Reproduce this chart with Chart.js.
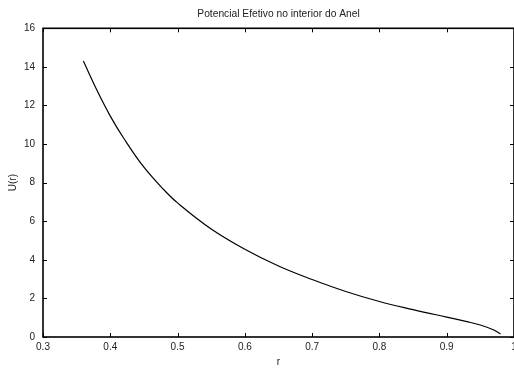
<!DOCTYPE html>
<html>
<head>
<meta charset="utf-8">
<script src="https://cdn.jsdelivr.net/npm/chart.js@4"></script>
<style>
  html, body { margin: 0; padding: 0; background: #fff; }
  #wrap { width: 514px; height: 369px; }
</style>
</head>
<body>
<div id="wrap"><canvas id="chart" width="514" height="369"></canvas></div>
<script>
// values
const rValues = [0.36, 0.38, 0.40, 0.42, 0.45, 0.48, 0.50, 0.55, 0.60, 0.65, 0.70, 0.75, 0.80, 0.85, 0.90, 0.93, 0.95, 0.97, 0.98];
const uValues = [14.3, 12.8, 11.45, 10.3, 8.8, 7.62, 6.95, 5.6, 4.55, 3.68, 2.98, 2.36, 1.84, 1.42, 1.03, 0.80, 0.62, 0.36, 0.16];
const xTicks = [0.3, 0.4, 0.5, 0.6, 0.7, 0.8, 0.9, 1];
const yTicks = [0, 2, 4, 6, 8, 10, 12, 14, 16];

const fontFamily = '"Liberation Sans", Arial, Helvetica, sans-serif';
const textColor = '#222';

// gnuplot style frame: full border with inward ticks on all four sides
const framePlugin = {
  id: 'frame',
  afterDatasetsDraw(chart) {
    const { ctx, chartArea: a, scales } = chart;
    const len = 4;
    ctx.save();
    ctx.strokeStyle = '#000';
    ctx.lineWidth = 1;
    ctx.beginPath();
    xTicks.forEach(v => {
      const x = Math.round(scales.x.getPixelForValue(v)) + 0.5;
      ctx.moveTo(x, a.bottom); ctx.lineTo(x, a.bottom - len);
      ctx.moveTo(x, a.top); ctx.lineTo(x, a.top + len);
    });
    yTicks.forEach(v => {
      const y = Math.round(scales.y.getPixelForValue(v)) + 0.5;
      ctx.moveTo(a.left, y); ctx.lineTo(a.left + len, y);
      ctx.moveTo(a.right, y); ctx.lineTo(a.right - len, y);
    });
    ctx.stroke();
    ctx.lineWidth = 1.6;
    ctx.strokeRect(a.left, a.top, a.right - a.left, a.bottom - a.top);
    ctx.restore();
  }
};

const ctx = document.getElementById('chart').getContext('2d');

new Chart(ctx, {
  type: 'line',
  data: {
    datasets: [{
      label: 'U(r)',
      data: rValues.map((r, i) => ({ x: r, y: uValues[i] })),
      borderColor: '#000',
      borderWidth: 1.2,
      pointRadius: 0,
      fill: false,
      tension: 0.4
    }]
  },
  options: {
    responsive: false,
    animation: false,
    layout: { padding: { left: 0, right: 0, top: 0, bottom: 0 } },
    scales: {
      x: {
        type: 'linear',
        min: 0.3,
        max: 1,
        afterBuildTicks: (scale) => { scale.ticks = xTicks.map(v => ({ value: v })); },
        afterFit: (scale) => { scale.height = 32; scale.paddingLeft = 0; scale.paddingRight = 0; },
        grid: { display: false, drawTicks: false },
        border: { display: false },
        ticks: {
          padding: 4,
          maxRotation: 0,
          color: textColor,
          font: { family: fontFamily, size: 10 },
          callback: (v) => String(v)
        },
        title: {
          display: true,
          text: 'r',
          color: textColor,
          font: { family: fontFamily, size: 10 },
          padding: { top: 0, bottom: 1 }
        }
      },
      y: {
        min: 0,
        max: 16,
        afterBuildTicks: (scale) => { scale.ticks = yTicks.map(v => ({ value: v })); },
        afterFit: (scale) => { scale.width = 43; scale.paddingTop = 0; scale.paddingBottom = 0; },
        grid: { display: false, drawTicks: false },
        border: { display: false },
        ticks: {
          padding: 8,
          color: textColor,
          font: { family: fontFamily, size: 10 }
        },
        title: {
          display: true,
          text: 'U(r)',
          color: textColor,
          font: { family: fontFamily, size: 10 },
          padding: { top: 7, bottom: 0 }
        }
      }
    },
    plugins: {
      legend: { display: false },
      tooltip: { enabled: false },
      title: {
        display: true,
        fullSize: false,
        text: 'Potencial Efetivo no interior do Anel',
        color: textColor,
        font: { family: fontFamily, size: 10.25, weight: 'normal' },
        padding: { top: 8, bottom: 8 }
      }
    }
  },
  plugins: [framePlugin]
});
</script>
</body>
</html>
